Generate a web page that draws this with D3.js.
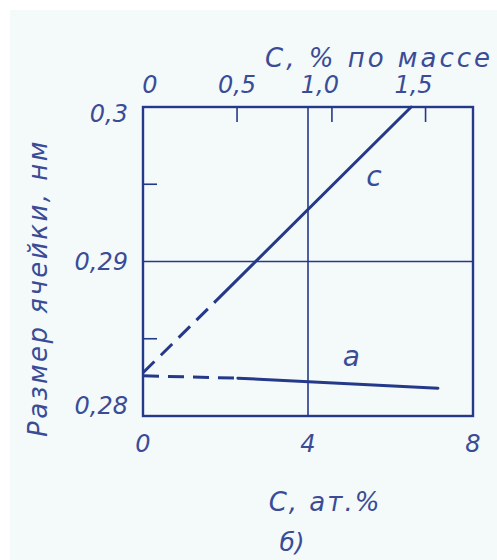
<!DOCTYPE html>
<html>
<head>
<meta charset="utf-8">
<script src="https://cdn.jsdelivr.net/npm/d3@7/dist/d3.min.js"></script>
<style>
  html, body { margin: 0; padding: 0; background: #ffffff; }
  svg text { font-family: "DejaVu Sans", sans-serif; font-style: italic; font-weight: 200; fill: #3a4c96; }
</style>
</head>
<body>
<svg id="chart" width="497" height="560"></svg>
<script>
// Lattice parameters of martensite vs. carbon content
const bottomTicks = [0, 4, 8];                 // C, at.%
const leftTicks = [0.28, 0.29, 0.30];
const leftTickLabels = ["0,28", "0,29", "0,3"];
const leftMinorTicks = [0.285, 0.295];
const topTicksMass = [0, 0.5, 1.0, 1.5];       // C, % by mass
const topTickLabels = ["0", "0,5", "1,0", "1,5"];
const topTickAt = [0, 2.28, 4.58, 6.85];       // same ticks on the at.% scale

// c parameter: [at.%, nm]; first segment is the extrapolated (dashed) part
const cAt = [0, 1.75, 6.5];
const cNm = [0.2828, 0.2874, 0.300];
// a parameter
const aAt = [0, 2.3, 7.15];
const aNm = [0.2826, 0.28245, 0.2818];

const ink = "#25398a";
const svg = d3.select("#chart");

svg.append("rect").attr("x", 10).attr("y", 10).attr("width", 487).attr("height", 550).attr("fill", "#f4f9f9");

const x = d3.scaleLinear().domain([0, 8]).range([143, 473]);
const y = d3.scaleLinear().domain([0.28, 0.30]).range([416, 107]);

// grid lines
svg.append("line").attr("x1", x(4)).attr("x2", x(4)).attr("y1", y(0.30)).attr("y2", y(0.28))
  .attr("stroke", ink).attr("stroke-width", 1.6);
svg.append("line").attr("x1", x(0)).attr("x2", x(8)).attr("y1", y(0.29)).attr("y2", y(0.29))
  .attr("stroke", ink).attr("stroke-width", 1.6);

// frame
svg.append("rect").attr("x", x(0)).attr("y", y(0.30)).attr("width", x(8) - x(0)).attr("height", y(0.28) - y(0.30))
  .attr("fill", "none").attr("stroke", ink).attr("stroke-width", 2.4);

// minor ticks on the left side
svg.selectAll(".lminor").data(leftMinorTicks).join("line")
  .attr("x1", x(0)).attr("x2", x(0) + 14).attr("y1", d => y(d)).attr("y2", d => y(d))
  .attr("stroke", ink).attr("stroke-width", 1.6);

// top ticks (mass %)
svg.selectAll(".tminor").data(topTickAt.slice(1)).join("line")
  .attr("x1", d => x(d)).attr("x2", d => x(d)).attr("y1", y(0.30)).attr("y2", y(0.30) + 15)
  .attr("stroke", ink).attr("stroke-width", 1.6);

// curves
const line = d3.line().x(d => x(d[0])).y(d => y(d[1]));
function drawCurve(at, nm) {
  const pts = at.map((v, i) => [v, nm[i]]);
  svg.append("path").attr("d", line(pts.slice(0, 2))).attr("fill", "none")
    .attr("stroke", ink).attr("stroke-width", 3).attr("stroke-dasharray", "16,9");
  svg.append("path").attr("d", line(pts.slice(1))).attr("fill", "none")
    .attr("stroke", ink).attr("stroke-width", 3).attr("stroke-linecap", "round");
}
drawCurve(cAt, cNm);
drawCurve(aAt, aNm);

// tick labels
svg.selectAll(".bl").data(bottomTicks).join("text")
  .attr("x", d => x(d)).attr("y", 452).attr("text-anchor", "middle")
  .attr("font-size", 24).text(d => d);

const leftDy = [-2, 8, 15];
svg.selectAll(".ll").data(leftTicks).join("text")
  .attr("x", 128).attr("y", (d, i) => y(d) + leftDy[i]).attr("text-anchor", "end")
  .attr("font-size", 24).text((d, i) => leftTickLabels[i]);

svg.selectAll(".tl").data(topTicksMass).join("text")
  .attr("x", (d, i) => x(topTickAt[i])).attr("y", 93).attr("text-anchor", "middle")
  .attr("dx", (d, i) => i === 0 ? 7 : (i === 1 ? 0 : -12))
  .attr("font-size", 24).text((d, i) => topTickLabels[i]);

// curve names
svg.append("text").attr("x", x(5.6)).attr("y", y(0.2955) + 9).attr("text-anchor", "middle")
  .attr("font-size", 28).text("c");
svg.append("text").attr("x", x(5.05)).attr("y", y(0.2838) + 9).attr("text-anchor", "middle")
  .attr("font-size", 28).text("a");

// axis titles
svg.append("text").attr("x", 493).attr("y", 67).attr("text-anchor", "end")
  .attr("font-size", 26).attr("letter-spacing", 3).text("C, % по массе");
svg.append("text").attr("x", 325).attr("y", 511).attr("text-anchor", "middle")
  .attr("font-size", 26).attr("letter-spacing", 2).text("C, ат.%");
svg.append("text").attr("x", 292).attr("y", 551).attr("text-anchor", "middle")
  .attr("font-size", 25).text("б)");
svg.append("text").attr("transform", "translate(47,288) rotate(-90)").attr("text-anchor", "middle")
  .attr("font-size", 26).attr("letter-spacing", 2.5).text("Размер ячейки, нм");
</script>
</body>
</html>
